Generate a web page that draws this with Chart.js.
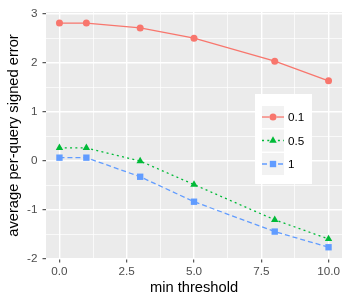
<!DOCTYPE html>
<html>
<head>
<meta charset="utf-8">
<script src="https://cdn.jsdelivr.net/npm/chart.js@4/dist/chart.umd.min.js"></script>
<style>
  html, body { margin: 0; padding: 0; background: #fff; }
  #wrap { width: 350px; height: 300px; }
</style>
</head>
<body>
<div id="wrap"><canvas id="myChart"></canvas></div>
<script>
// values
const thresholds = [0, 1, 3, 5, 8, 10];
const err01 = [2.81, 2.81, 2.71, 2.50, 2.03, 1.63];
const err05 = [0.26, 0.26, -0.01, -0.49, -1.21, -1.60];
const err1 = [0.06, 0.06, -0.33, -0.84, -1.45, -1.77];
const seriesLabels = ['0.1', '0.5', '1'];

const xTicks = [0, 1.25, 2.5, 3.75, 5, 6.25, 7.5, 8.75, 10];
const xLabels = [0, 2.5, 5, 7.5, 10];
const yTicks = [-2, -1.5, -1, -0.5, 0, 0.5, 1, 1.5, 2, 2.5, 3];
const yLabels = [-2, -1, 0, 1, 2, 3];

const FONT = '"Liberation Sans", Arial, sans-serif';

function toPoints(values) {
    return thresholds.map((t, i) => ({ x: t, y: values[i] }));
}

function makeDataset(label, values, color, style, dash, radius) {
    return {
        label: label,
        data: toPoints(values),
        borderColor: color,
        backgroundColor: color,
        borderWidth: 1.3,
        borderDash: dash,
        pointStyle: style,
        pointRadius: radius,
        pointBorderWidth: 0,
        tension: 0,
        fill: false
    };
}

const panelBg = {
    id: 'panelBg',
    beforeDraw(chart) {
        const a = chart.chartArea;
        const ctx = chart.ctx;
        ctx.save();
        ctx.fillStyle = '#EBEBEB';
        ctx.fillRect(a.left, a.top, a.right - a.left, a.bottom - a.top);
        ctx.restore();
    }
};

// ggplot-like legend inside the panel
const insideLegend = {
    id: 'insideLegend',
    afterDraw(chart) {
        const ctx = chart.ctx;
        const a = chart.chartArea;
        const bx = a.left + 209, by = a.top + 82;
        ctx.save();
        ctx.fillStyle = '#FFFFFF';
        ctx.fillRect(bx, by, 57, 90);
        chart.data.datasets.forEach((ds, i) => {
            const kx = bx + 7, ky = by + 12 + i * 23.5;
            ctx.fillStyle = '#F2F2F2';
            ctx.fillRect(kx, ky, 22, 22);
            const cy = ky + 11;
            ctx.strokeStyle = ds.borderColor;
            ctx.lineWidth = ds.borderWidth;
            ctx.setLineDash(ds.borderDash);
            ctx.beginPath();
            ctx.moveTo(kx, cy);
            ctx.lineTo(kx + 22, cy);
            ctx.stroke();
            ctx.setLineDash([]);
            Chart.helpers.drawPoint(ctx, {
                pointStyle: ds.pointStyle,
                radius: ds.pointRadius,
                rotation: 0,
                borderWidth: 0
            }, kx + 11, cy);
            ctx.fillStyle = ds.borderColor;
            ctx.fill();
            ctx.fillStyle = '#000000';
            ctx.font = '11.7px ' + FONT;
            ctx.textAlign = 'left';
            ctx.textBaseline = 'middle';
            ctx.fillText(ds.label, kx + 26, cy + 1);
        });
        ctx.restore();
    }
};

new Chart(document.getElementById('myChart').getContext('2d'), {
    type: 'line',
    data: {
        datasets: [
            makeDataset(seriesLabels[0], err01, '#F8766D', 'circle', [], 3.5),
            makeDataset(seriesLabels[1], err05, '#00BA38', 'triangle', [2, 3.3], 4.3),
            makeDataset(seriesLabels[2], err1, '#619CFF', 'rect', [5, 3], 4.5)
        ]
    },
    options: {
        responsive: true,
        maintainAspectRatio: false,
        animation: false,
        layout: { padding: { top: 7, right: 8, left: 0, bottom: 0 } },
        plugins: {
            legend: { display: false },
            tooltip: { enabled: false }
        },
        scales: {
            x: {
                type: 'linear',
                min: -0.5,
                max: 10.5,
                afterBuildTicks: scale => { scale.ticks = xTicks.map(v => ({ value: v })); },
                afterFit: scale => { scale.height = 41; },
                border: { display: false },
                grid: {
                    color: '#FFFFFF',
                    lineWidth: c => xLabels.includes(c.tick.value) ? 1.4 : 0.7,
                    tickLength: 3.5,
                    tickColor: c => xLabels.includes(c.tick.value) ? '#333333' : 'rgba(0,0,0,0)',
                    tickWidth: 1
                },
                ticks: {
                    autoSkip: false,
                    maxRotation: 0,
                    padding: 2,
                    color: '#4D4D4D',
                    font: { family: FONT, size: 11.7 },
                    callback: v => xLabels.includes(v) ? v.toFixed(1) : ''
                },
                title: {
                    display: true,
                    text: 'min threshold',
                    color: '#000000',
                    font: { family: FONT, size: 14.7 },
                    padding: { top: 0, bottom: 3 }
                }
            },
            y: {
                type: 'linear',
                min: -2.01,
                max: 3.035,
                afterBuildTicks: scale => { scale.ticks = yTicks.map(v => ({ value: v })); },
                afterFit: scale => { scale.width = 46; },
                border: { display: false },
                grid: {
                    color: '#FFFFFF',
                    lineWidth: c => yLabels.includes(c.tick.value) ? 1.4 : 0.7,
                    tickLength: 3.5,
                    tickColor: c => yLabels.includes(c.tick.value) ? '#333333' : 'rgba(0,0,0,0)',
                    tickWidth: 1
                },
                ticks: {
                    autoSkip: false,
                    padding: 5,
                    color: '#4D4D4D',
                    font: { family: FONT, size: 11.7 },
                    callback: v => yLabels.includes(v) ? String(v) : ''
                },
                title: {
                    display: true,
                    text: 'average per-query signed error',
                    color: '#000000',
                    font: { family: FONT, size: 14.7 },
                    padding: { top: 5, bottom: 0 }
                }
            }
        }
    },
    plugins: [panelBg, insideLegend]
});
</script>
</body>
</html>
